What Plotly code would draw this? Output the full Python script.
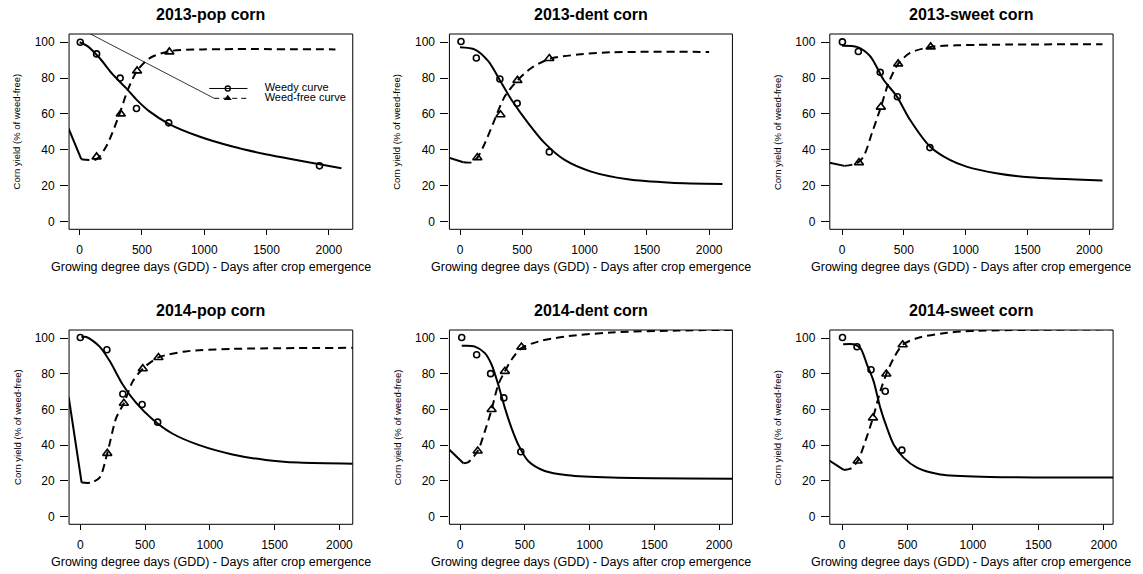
import plotly.graph_objects as go

# ---------------- data ----------------
panel_titles = ["2013-pop corn", "2013-dent corn", "2013-sweet corn",
                "2014-pop corn", "2014-dent corn", "2014-sweet corn"]
x_title = "Growing degree days (GDD) - Days after crop emergence"
y_title = "Corn yield (% of weed-free)"
x_ticks = [0, 500, 1000, 1500, 2000]
y_ticks = [0, 20, 40, 60, 80, 100]

# 2013 pop corn
pop13_weedy_gdd = [5, 136, 325, 456, 715, 1925]
pop13_weedy_yield = [100, 93.5, 80, 63, 55, 31]
pop13_free_gdd = [136, 330, 461, 720]
pop13_free_yield = [36, 60, 84, 94.6]
pop13_weedy_fit_gdd = [0, 60, 160, 260, 373, 456, 560, 715, 960, 1227, 1493, 1760, 1925, 2101]
pop13_weedy_fit_yield = [100, 98, 91.2, 82.5, 74.4, 68, 61.4, 54.5, 47.4, 41.8, 37.5, 34, 31.9, 29.7]
pop13_free_fit_gdd = [-90, 13, 133, 213, 320, 387, 461, 560, 720, 987, 2053]
pop13_free_fit_yield = [52, 34.7, 34.7, 41.8, 60, 73.5, 84, 91, 95, 96, 96]

# 2013 dent corn
dent13_weedy_gdd = [8, 131, 320, 459, 717]
dent13_weedy_yield = [100.4, 91.2, 79.5, 65.9, 38.8]
dent13_free_gdd = [139, 325, 461, 717]
dent13_free_yield = [35.6, 59.5, 78.7, 90.9]
dent13_weedy_fit_gdd = [0, 120, 227, 333, 413, 547, 680, 840, 1053, 1347, 1693, 2107]
dent13_weedy_fit_yield = [97.2, 95.9, 89.4, 77.2, 67.9, 54.9, 43.7, 34.3, 27.8, 23.5, 21.6, 20.9]
dent13_free_fit_gdd = [-90, 27, 93, 139, 200, 267, 360, 461, 573, 717, 947, 1213, 2000]
dent13_free_fit_yield = [35.6, 33, 33, 35.6, 43.7, 54.9, 69.8, 78.7, 85.6, 90.7, 93.1, 94.4, 94.6]

# 2013 sweet corn
sweet13_weedy_gdd = [3, 132, 309, 448, 711]
sweet13_weedy_yield = [100.2, 94.8, 83.2, 69.6, 41.2]
sweet13_free_gdd = [137, 314, 454, 717]
sweet13_free_yield = [32.8, 63.8, 87.9, 97.4]
sweet13_weedy_fit_gdd = [0, 121, 228, 336, 443, 550, 711, 872, 1007, 1248, 1517, 2107]
sweet13_weedy_fit_yield = [98.1, 97.4, 92.2, 79.1, 69.8, 56.7, 41.8, 34.3, 30.6, 26.9, 24.6, 22.8]
sweet13_free_fit_gdd = [-100, 19, 121, 174, 242, 314, 376, 454, 550, 717, 926, 2107]
sweet13_free_fit_yield = [32.8, 31, 32.5, 36.2, 49.3, 63.8, 77.2, 87.9, 94, 97.4, 98.3, 98.9]

# 2014 pop corn
pop14_weedy_gdd = [0, 205, 328, 477, 597]
pop14_weedy_yield = [100.4, 93.5, 68.7, 62.8, 52.9]
pop14_free_gdd = [208, 336, 482, 603]
pop14_free_yield = [35.4, 63.5, 82.9, 89.2]
pop14_weedy_fit_gdd = [8, 46, 149, 226, 328, 431, 559, 713, 918, 1174, 1431, 1687, 2103]
pop14_weedy_fit_yield = [100.6, 100.7, 95.3, 87.3, 73.9, 63.7, 54.4, 46.4, 40, 34.8, 31.7, 30.2, 29.6]
pop14_free_fit_gdd = [-90, 10, 85, 149, 208, 277, 336, 405, 482, 603, 815, 1174, 2110]
pop14_free_fit_yield = [67, 19, 19, 21.8, 35.4, 55.3, 63.5, 75.8, 82.9, 89.2, 92.6, 94, 94.6]

# 2014 dent corn
dent14_weedy_gdd = [13, 128, 236, 338, 469]
dent14_weedy_yield = [100.4, 90.7, 80.1, 66.5, 36.3]
dent14_free_gdd = [136, 244, 346, 474]
dent14_free_yield = [36.7, 60, 81.4, 95]
dent14_weedy_fit_gdd = [13, 115, 192, 244, 295, 346, 397, 449, 526, 654, 833, 1167, 2110]
dent14_weedy_fit_yield = [95.7, 95.3, 91.6, 85.1, 73.9, 60.9, 49.7, 40.4, 31.1, 25.5, 23.1, 21.8, 21.2]
dent14_free_fit_gdd = [-90, 26, 64, 136, 192, 244, 295, 346, 397, 474, 603, 808, 1167, 1679, 2110]
dent14_free_fit_yield = [38, 29.8, 30.5, 36.7, 47.9, 60, 73.9, 81.4, 87.9, 94.4, 98.1, 100.9, 103.2, 104.3, 104.7]

# 2014 sweet corn
sweet14_weedy_gdd = [3, 114, 221, 330, 457]
sweet14_weedy_yield = [100.4, 95.2, 82.3, 70.2, 37.2]
sweet14_free_gdd = [119, 236, 338, 463]
sweet14_free_yield = [31.1, 55.3, 79.9, 96.3]
sweet14_weedy_fit_gdd = [8, 89, 140, 191, 241, 292, 343, 394, 470, 572, 750, 1131, 2080]
sweet14_weedy_fit_yield = [96.6, 96.6, 94.4, 85.1, 75.8, 60.9, 49.7, 40.4, 33, 27.4, 23.6, 22.2, 21.8]
sweet14_free_fit_gdd = [-100, 13, 64, 119, 178, 236, 292, 338, 394, 463, 572, 775, 1004, 2080]
sweet14_free_fit_yield = [31.5, 26.1, 26.8, 31.1, 42.3, 55.3, 70.2, 79.9, 88.8, 96.3, 100, 102.8, 104.1, 105]

# legend artefact drawn inside the first panel
legend_labels = ["Weedy curve", "Weed-free curve"]
legend_line_gdd = [1040, 1347]
legend_dash_gdd = [1080, 1347]
legend_marker_gdd = [1189]
legend_text_gdd = [1485]
legend_yield = [74.2, 68.7]
stray_line_gdd = [-90, 1080]
stray_line_yield = [111.0, 68.7]

panels = [
    (pop13_weedy_gdd, pop13_weedy_yield, pop13_free_gdd, pop13_free_yield,
     pop13_weedy_fit_gdd, pop13_weedy_fit_yield, pop13_free_fit_gdd, pop13_free_fit_yield),
    (dent13_weedy_gdd, dent13_weedy_yield, dent13_free_gdd, dent13_free_yield,
     dent13_weedy_fit_gdd, dent13_weedy_fit_yield, dent13_free_fit_gdd, dent13_free_fit_yield),
    (sweet13_weedy_gdd, sweet13_weedy_yield, sweet13_free_gdd, sweet13_free_yield,
     sweet13_weedy_fit_gdd, sweet13_weedy_fit_yield, sweet13_free_fit_gdd, sweet13_free_fit_yield),
    (pop14_weedy_gdd, pop14_weedy_yield, pop14_free_gdd, pop14_free_yield,
     pop14_weedy_fit_gdd, pop14_weedy_fit_yield, pop14_free_fit_gdd, pop14_free_fit_yield),
    (dent14_weedy_gdd, dent14_weedy_yield, dent14_free_gdd, dent14_free_yield,
     dent14_weedy_fit_gdd, dent14_weedy_fit_yield, dent14_free_fit_gdd, dent14_free_fit_yield),
    (sweet14_weedy_gdd, sweet14_weedy_yield, sweet14_free_gdd, sweet14_free_yield,
     sweet14_weedy_fit_gdd, sweet14_weedy_fit_yield, sweet14_free_fit_gdd, sweet14_free_fit_yield),
]

# ---------------- layout ----------------
W, H = 1143, 574
FONT = "Liberation Sans, Arial, Helvetica, sans-serif"
col_px = [(69.3, 354.0), (451.0, 735.0), (832.7, 1117.0)]
row_px = [(34.0, 229.3), (330.0, 524.3)]
x_ranges = [[-85, 2192], [-85, 2187], [-99, 2193], [-87, 2103], [-82, 2103], [-94, 2071]]
y_range = [-4.4, 104.6]

def fx(p):
    return p / W

def fy(p):
    return 1 - p / H

fig = go.Figure()
DASH = "8px,5px"
SMOOTH = 0.8

for i, data in enumerate(panels):
    (wg, wy, fg, fyd, wfg, wfy, ffg, ffy) = data
    ax = "" if i == 0 else str(i + 1)
    xa, ya = "x" + ax, "y" + ax
    fig.add_trace(go.Scatter(x=wfg, y=wfy, mode="lines", xaxis=xa, yaxis=ya,
                             line=dict(color="black", width=2, shape="spline", smoothing=SMOOTH),
                             showlegend=False, hoverinfo="skip"))
    # weed-free fit: straight entry segment, then smooth rise
    fig.add_trace(go.Scatter(x=ffg[:2], y=ffy[:2], mode="lines", xaxis=xa, yaxis=ya,
                             line=dict(color="black", width=2),
                             showlegend=False, hoverinfo="skip"))
    fig.add_trace(go.Scatter(x=ffg[1:], y=ffy[1:], mode="lines", xaxis=xa, yaxis=ya,
                             line=dict(color="black", width=2, dash=DASH, shape="spline",
                                       smoothing=SMOOTH),
                             showlegend=False, hoverinfo="skip"))
    fig.add_trace(go.Scatter(x=wg, y=wy, mode="markers", xaxis=xa, yaxis=ya,
                             marker=dict(symbol="circle-open", size=6, color="black",
                                         line=dict(width=1.6, color="black")),
                             showlegend=False))
    fig.add_trace(go.Scatter(x=fg, y=fyd, mode="markers", xaxis=xa, yaxis=ya,
                             marker=dict(symbol="triangle-up-open", size=8, color="black",
                                         line=dict(width=1.6, color="black")),
                             showlegend=False))

    r, c = divmod(i, 3)
    x0, x1 = col_px[c]
    y0, y1 = row_px[r]
    axis_common = dict(showline=False, showgrid=False, zeroline=False, ticks="outside",
                       tickcolor="black", tickwidth=1,
                       tickfont=dict(family=FONT, size=12, color="black"))
    fig.layout["xaxis" + ax] = dict(domain=[fx(x0), fx(x1)], range=x_ranges[i],
                                    anchor=ya, tickvals=x_ticks, ticklen=5,
                                    ticklabelstandoff=4, **axis_common)
    fig.layout["yaxis" + ax] = dict(domain=[fy(y1), fy(y0)], range=y_range,
                                    anchor=xa, tickvals=y_ticks, ticklen=8,
                                    ticklabelstandoff=3, **axis_common)
    fig.add_shape(type="rect", xref=xa + " domain", yref=ya + " domain",
                  x0=0, x1=1, y0=0, y1=1, line=dict(color="black", width=1),
                  fillcolor="rgba(0,0,0,0)", layer="above")

    cx = (x0 + x1) / 2
    fig.add_annotation(text="<b>%s</b>" % panel_titles[i], x=fx(cx), y=fy(y0 - 20),
                       xref="paper", yref="paper", showarrow=False,
                       xanchor="center", yanchor="middle",
                       font=dict(family=FONT, size=16, color="black"))
    fig.add_annotation(text=x_title, x=fx(cx), y=fy(y1 + 37.5),
                       xref="paper", yref="paper", showarrow=False,
                       xanchor="center", yanchor="middle",
                       font=dict(family=FONT, size=12.5, color="black"))
    fig.add_annotation(text=y_title, x=fx(x0 - 52.5), y=fy((y0 + y1) / 2),
                       xref="paper", yref="paper", showarrow=False, textangle=-90,
                       xanchor="center", yanchor="middle",
                       font=dict(family=FONT, size=9.5, color="black"))

# legend artefact in first panel
fig.add_trace(go.Scatter(x=stray_line_gdd, y=stray_line_yield, mode="lines",
                         line=dict(color="black", width=0.8), showlegend=False, hoverinfo="skip"))
fig.add_trace(go.Scatter(x=legend_line_gdd, y=[legend_yield[0]] * 2, mode="lines",
                         line=dict(color="black", width=1), showlegend=False, hoverinfo="skip"))
fig.add_trace(go.Scatter(x=legend_dash_gdd, y=[legend_yield[1]] * 2, mode="lines",
                         line=dict(color="black", width=1, dash="5px,4px"), showlegend=False,
                         hoverinfo="skip"))
fig.add_trace(go.Scatter(x=legend_marker_gdd, y=[legend_yield[0]], mode="markers",
                         marker=dict(symbol="circle-open", size=5, color="black",
                                     line=dict(width=1.4, color="black")),
                         showlegend=False, hoverinfo="skip"))
fig.add_trace(go.Scatter(x=legend_marker_gdd, y=[legend_yield[1]], mode="markers",
                         marker=dict(symbol="triangle-up", size=7, color="black"),
                         showlegend=False, hoverinfo="skip"))
fig.add_trace(go.Scatter(x=legend_text_gdd * 2, y=legend_yield, mode="text",
                         text=legend_labels, textposition="middle right", cliponaxis=True,
                         textfont=dict(family=FONT, size=11, color="black"),
                         showlegend=False, hoverinfo="skip"))

fig.update_layout(width=W, height=H, margin=dict(l=0, r=0, t=0, b=0),
                  paper_bgcolor="white", plot_bgcolor="white", showlegend=False)

fig.write_html("out.html", config={"displayModeBar": False},
               post_script="document.body.style.margin='0px';document.body.style.padding='0px';")
